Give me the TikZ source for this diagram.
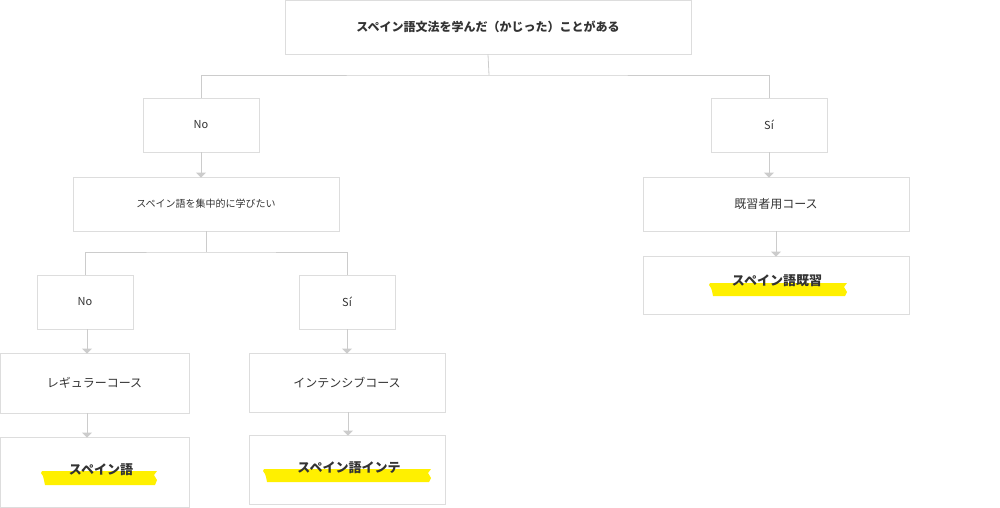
\documentclass[tikz,border=0pt]{standalone}
\usepackage{fontspec}
\setmainfont{Noto Sans CJK JP}
\usetikzlibrary{arrows.meta}
\definecolor{tx}{HTML}{333333}
\definecolor{bd}{HTML}{DDDDDD}
\definecolor{ln}{HTML}{CCCCCC}
\definecolor{hy}{HTML}{FFF000}
\begin{document}
\begin{tikzpicture}[x=1pt,y=-1pt,
  box/.style={draw=bd,line width=0.8pt,inner sep=0pt,text=tx,font=\fontsize{11}{13}\selectfont},
  bbox/.style={box,font=\bfseries\fontsize{13}{15}\selectfont},
  conn/.style={draw=ln,line width=0.8pt},
  arr/.style={conn,-{Triangle[width=10pt,length=5pt]}}]
\useasboundingbox (0,0) rectangle (1000,508);
\newcommand{\bx}[5]{\node[#1,minimum width=#4-#2,minimum height=#5-#3] (#1X) at ({(#2+#4)/2},{(#3+#5)/2}) {};}
\node[box,minimum width=406,minimum height=54,font=\bfseries\fontsize{12}{14}\selectfont] (top) at (488,27) {スペイン語文法を学んだ（かじった）ことがある};
\node[box,minimum width=116,minimum height=54] (no1) at (201,125) {No};
\node[box,minimum width=116,minimum height=54] (si1) at (769,125) {Sí};
\node[box,minimum width=266,minimum height=54,font=\fontsize{10}{12}\selectfont] (q2) at (206,204) {スペイン語を集中的に学びたい};
\node[box,minimum width=96,minimum height=54] (no2) at (85,302) {No};
\node[box,minimum width=96,minimum height=54] (si2) at (347,302) {Sí};
\node[box,minimum width=189,minimum height=60,font=\fontsize{12}{14}\selectfont] (reg) at (94.5,383) {レギュラーコース};
\node[box,minimum width=196,minimum height=59,font=\fontsize{12}{14}\selectfont] (int) at (347,382.5) {インテンシブコース};
\node[box,minimum width=266,minimum height=54,font=\fontsize{12}{14}\selectfont] (kiz) at (776,204) {既習者用コース};
\node[box,minimum width=189,minimum height=70] (r1) at (94.5,472) {};
\node[box,minimum width=196,minimum height=69] (r2) at (347,469.5) {};
\node[box,minimum width=266,minimum height=58] (r3) at (776,285) {};
% highlights
\newcommand{\hlb}[4]{\fill[hy] (#1,#3) -- (#2,#3) -- (#2-3,#3+4) -- (#2,#3+9) -- (#2-2,#4) -- (#1+3,#4) -- (#1+2,#4-5) -- (#1+1,#3+5) -- (#1-1,#3+2) -- cycle;}
\hlb{42}{157}{471}{485}
\hlb{264}{431}{469}{482}
\hlb{710}{847}{283}{296}
\node[text=tx,font=\bfseries\fontsize{13}{15}\selectfont] (t1) at (101,470) {スペイン語};
\node[text=tx,font=\bfseries\fontsize{13}{15}\selectfont] (t2) at (349,468) {スペイン語インテ};
\node[text=tx,font=\bfseries\fontsize{13}{15}\selectfont] (t3) at (777,281) {スペイン語既習};
% connectors
\coordinate (a1) at (489,75);
\draw[conn] (top.south) -- (a1);
\draw[conn] (no1.north) |- (a1) -| (si1.north);
\coordinate (a2) at (206,252);
\draw[conn] (q2.south) -- (a2);
\draw[conn] (no2.north) |- (a2) -| (si2.north);
\draw[arr] (no1.south) -- ([yshift=-1pt]q2.north -| no1.south);
\draw[arr] (si1.south) -- ([yshift=-1pt]kiz.north -| si1.south);
\draw[arr] (kiz.south) -- ([yshift=-1pt]r3.north -| kiz.south);
\draw[arr] (no2.south -| 87,0) -- ([yshift=-1pt]reg.north -| 87,0);
\draw[arr] (si2.south) -- ([yshift=-1pt]int.north -| si2.south);
\draw[arr] (reg.south -| 87,0) -- ([yshift=-1pt]r1.north -| 87,0);
\draw[arr] (int.south -| 348,0) -- ([yshift=-1pt]r2.north -| 348,0);
\end{tikzpicture}
\end{document}
